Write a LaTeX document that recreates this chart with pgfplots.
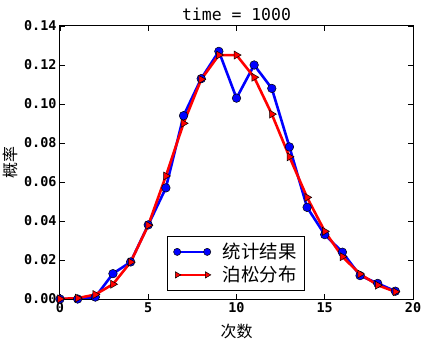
\documentclass[border=0pt]{standalone}
\usepackage{fontspec}
\usepackage{pgfplots}
\pgfplotsset{compat=1.18}
\newfontfamily\cjk{Noto Sans CJK SC}
\newfontfamily\mono{DejaVu Sans Mono}
\newfontfamily\monob{DejaVu Sans Mono Bold}
\definecolor{mplblue}{RGB}{0,0,255}
\definecolor{mplred}{RGB}{255,0,0}
\begin{document}
\begin{tikzpicture}
\path[use as bounding box] (-60bp,-43bp) rectangle (363bp,299bp);
\begin{axis}[
  at={(0,0)}, anchor=south west,
  scale only axis, width=353bp, height=273bp,
  xmin=0, xmax=20, ymin=0, ymax=0.14,
  xtick={0,5,10,15,20},
  ytick={0,0.02,0.04,0.06,0.08,0.10,0.12,0.14},
  minor tick num=0,
  tick align=inside, major tick length=5bp,
  tick style={black, line width=0.8bp},
  axis line style={line width=1bp},
  /pgf/number format/assume math mode=true,
  ticklabel style={font=\monob\fontsize{13.5}{15}\selectfont},
  yticklabel style={/pgf/number format/.cd, fixed, fixed zerofill, precision=2},
  xticklabel style={/pgf/number format/.cd, fixed, precision=0},
  title={time = 1000},
  title style={font=\mono\fontsize{16.5}{18}\selectfont, yshift=-4bp},
  xlabel={次数}, ylabel={概率},
  xlabel style={yshift=-5bp},
  ylabel style={yshift=-1bp},
  label style={font=\cjk\fontsize{16}{18}\selectfont},
  legend style={at={(107/353,8/273)}, anchor=south west, draw=black, line width=1.2bp,
    font=\cjk\fontsize{18.5}{21}\selectfont, inner xsep=6bp, inner ysep=5bp,
    row sep=2bp, nodes={inner sep=2bp},
    /tikz/every odd column/.append style={column sep=10bp}},
  legend cell align=left,
  legend image code/.code={\draw[#1, line width=1.3bp, mark size=3.6bp] plot coordinates {(0bp,0bp) (30bp,0bp)};},
]
\addplot[mplblue, line width=2.6bp, mark=*, mark size=4.3bp,
  mark options={fill=mplblue, draw=black, line width=0.5bp}] coordinates {
(0,0) (1,0) (2,0.001) (3,0.013) (4,0.019) (5,0.038) (6,0.057) (7,0.094)
(8,0.113) (9,0.127) (10,0.103) (11,0.120) (12,0.108) (13,0.078) (14,0.047)
(15,0.033) (16,0.024) (17,0.012) (18,0.008) (19,0.004)};
\addlegendentry{统计结果}
\addplot[mplred, line width=2.6bp, mark=triangle*, mark size=4.6bp,
  mark options={fill=mplred, draw=black, line width=0.5bp, rotate=-90}] coordinates {
(0,0.0000454) (1,0.000454) (2,0.00227) (3,0.00757) (4,0.0189) (5,0.0378)
(6,0.0631) (7,0.0901) (8,0.1126) (9,0.1251) (10,0.1251) (11,0.1137)
(12,0.0948) (13,0.0729) (14,0.0521) (15,0.0347) (16,0.0217) (17,0.0128)
(18,0.0071) (19,0.0037)};
\addlegendentry{泊松分布}
\end{axis}
\end{tikzpicture}
\end{document}
